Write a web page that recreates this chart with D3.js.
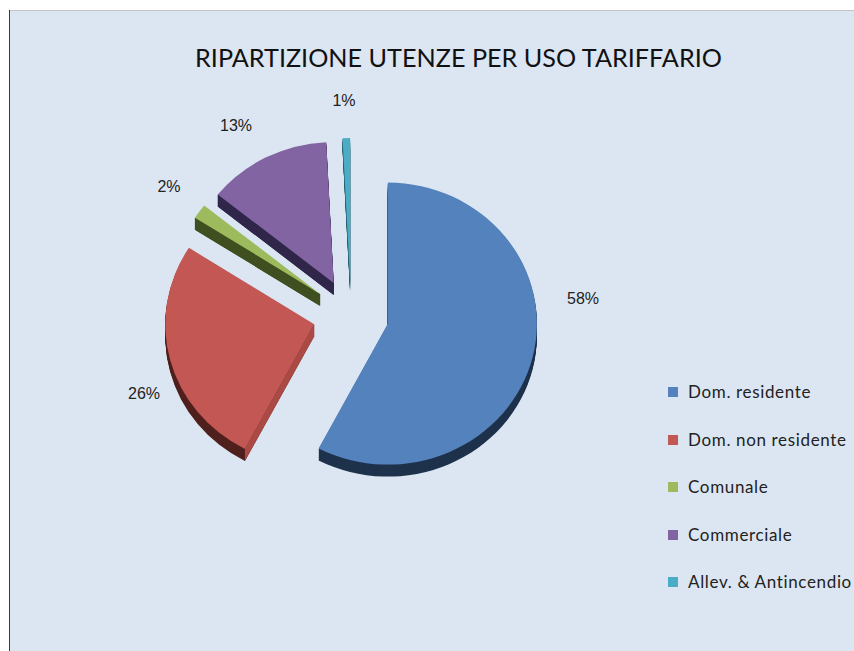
<!DOCTYPE html>
<html>
<head>
<meta charset="utf-8">
<script src="https://cdn.jsdelivr.net/npm/d3@7"></script>
<style>
html,body{margin:0;padding:0;background:#fff}
svg{display:block}
</style>
</head>
<body>
<svg id="chart" width="854" height="651"></svg>
<script>
const categories = ["Dom. residente","Dom. non residente","Comunale","Commerciale","Allev. & Antincendio"];
const values = [57.7,26.4,1.7,13.4,0.8];
const percentLabels = ["58%","26%","2%","13%","1%"];
const titleText = "RIPARTIZIONE UTENZE PER USO TARIFFARIO";
const topColors = ["#5482bd","#c25753","#9dbb5c","#8364a2","#4aacc5"];
const sideColors = ["#1f324c","#50211e","#3f4f20","#30264a","#25606f"];
const edgeColors = ["#1f324c","#ab4a45","#3f4f20","#30264a","#25606f"];
// text layout
const labelX = [583,144,169,236,344];
const labelY = [298,393,186,125,100];
const legendY = [392,440,487,535,582];

const W = 854, H = 651;
const cx = 351, cy = 315, rx = 149, squash = 141/149, explode = 38, depth = 12;

const svg = d3.select("#chart");
svg.append("rect").attr("x",9).attr("y",10).attr("width",W-9).attr("height",H-10).attr("fill","#dce6f2");
svg.append("line").attr("x1",9).attr("x2",W).attr("y1",10.5).attr("y2",10.5).attr("stroke","#c4c4c4").attr("stroke-width",1);
svg.append("line").attr("x1",9.5).attr("x2",9.5).attr("y1",10).attr("y2",H).attr("stroke","#3a3a3a").attr("stroke-width",1);

svg.append("text").attr("x",458.5).attr("y",67).attr("text-anchor","middle")
  .attr("font-family","Lato, 'Open Sans', sans-serif").attr("font-size",25.2).attr("fill","#111")
  .text(titleText);

const pie = d3.pie().sort(null).value(d=>d);
const arcs = pie(values);
const arc = d3.arc().innerRadius(0).outerRadius(rx);
const place = (d,dz) => {
  const a = (d.startAngle+d.endAngle)/2;
  return `translate(${cx},${cy+dz}) scale(1,${squash}) translate(${explode*Math.sin(a)},${-explode*Math.cos(a)})`;
};

const slices = svg.append("g").selectAll("g").data(arcs).join("g");
// extruded body
slices.each(function(d,i){
  const g = d3.select(this);
  d3.range(depth,0,-1).forEach(z=>{
    g.append("path").attr("d",arc(d)).attr("transform",place(d,z)).attr("fill",sideColors[i]);
  });
  // wall along the slice's starting radial edge
  const ox = rx*Math.sin(d.startAngle), oy = -rx*Math.cos(d.startAngle);
  const a = (d.startAngle+d.endAngle)/2;
  const ex = explode*Math.sin(a), ey = -explode*Math.cos(a);
  const p = (x,y,z)=>[cx+x+ex, cy+z+(y+ey)*squash];
  g.append("path")
    .attr("d",d3.line()([p(0,0,0),p(ox,oy,0),p(ox,oy,depth),p(0,0,depth)])+"Z")
    .attr("fill",edgeColors[i]);
  g.append("path").attr("d",arc(d)).attr("transform",place(d,0)).attr("fill",topColors[i]);
});

svg.append("g").selectAll("text").data(percentLabels).join("text")
  .attr("x",(d,i)=>labelX[i]).attr("y",(d,i)=>labelY[i]).attr("dy","0.35em")
  .attr("text-anchor","middle").attr("font-family","'Liberation Sans', Arial, sans-serif")
  .attr("font-size",16).attr("fill","#222").text(d=>d);

const legend = svg.append("g").selectAll("g").data(categories).join("g")
  .attr("transform",(d,i)=>`translate(668,${legendY[i]})`);
legend.append("rect").attr("x",0).attr("y",-5).attr("width",10).attr("height",10).attr("fill",(d,i)=>topColors[i]);
legend.append("text").attr("x",20).attr("y",0).attr("dy","0.35em")
  .attr("font-family","Lato, 'Open Sans', sans-serif").attr("font-size",17).attr("letter-spacing",0.65)
  .attr("fill","#222").text(d=>d);
</script>
</body>
</html>
